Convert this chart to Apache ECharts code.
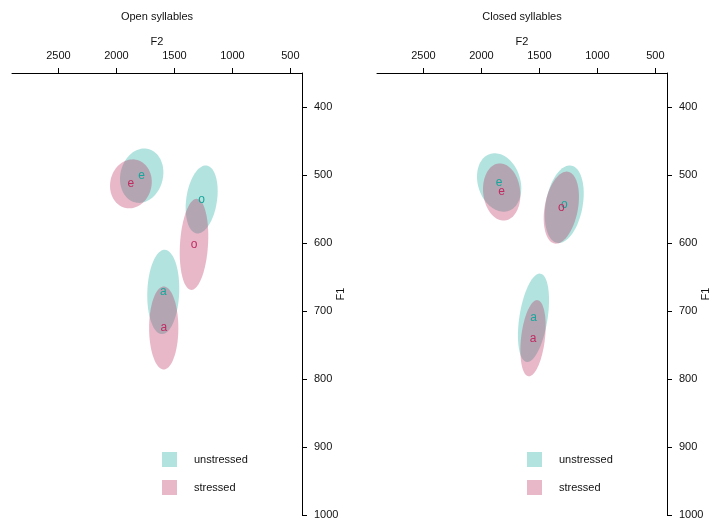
<!DOCTYPE html>
<html>
<head>
<meta charset="utf-8">
<script src="https://cdn.jsdelivr.net/npm/echarts@6/dist/echarts.min.js"></script>
<style>html,body{margin:0;padding:0;background:#fff;}#chart{width:715px;height:519px;}</style>
</head>
<body>
<div id="chart"></div>
<script>
// ---- data (Hz) ----
const vowels = ['a', 'e', 'o'];
const f2Ticks = [500, 1000, 1500, 2000, 2500];
const f1Ticks = [400, 500, 600, 700, 800, 900, 1000];
const panelTitles = ['Open syllables', 'Closed syllables'];
const groupNames = ['unstressed', 'stressed'];

// Open syllables: ellipse centre, half-extents (F2, F1) and correlation
const openUnstressedF2 = [1596, 1782, 1265];
const openUnstressedF1 = [672, 501, 536];
const openUnstressedRadF2 = [138, 187, 138];
const openUnstressedRadF1 = [62, 40, 50];
const openUnstressedCorr = [0.08, 0.12, 0.25];

const openStressedF2 = [1592, 1875, 1331];
const openStressedF1 = [725, 513, 602];
const openStressedRadF2 = [126, 180, 123];
const openStressedRadF1 = [61, 36, 67];
const openStressedCorr = [0.0, 0.08, 0.18];

// Closed syllables
const closedUnstressedF2 = [1551, 1847, 1286];
const closedUnstressedF1 = [710, 511, 543];
const closedUnstressedRadF2 = [134, 191, 168];
const closedUnstressedRadF1 = [65, 43, 57];
const closedUnstressedCorr = [0.4, -0.2, 0.28];

const closedStressedF2 = [1555, 1825, 1311];
const closedStressedF1 = [740, 525, 548];
const closedStressedRadF2 = [109, 161, 152];
const closedStressedRadF1 = [56, 42, 53];
const closedStressedCorr = [0.32, -0.1, 0.3];

// ---- styling ----
const fillColors = {unstressed: 'rgba(22,170,158,0.33)', stressed: 'rgba(185,40,88,0.33)'};
const textColors = {unstressed: '#17a69b', stressed: '#be2c62'};
const FONT = '"Liberation Sans", Arial, Helvetica, sans-serif';

function rows(f2, f1, r2, r1, c) {
  return vowels.map((v, i) => [f2[i], f1[i], r2[i], r1[i], c[i], i]);
}
const panels = [
  {unstressed: rows(openUnstressedF2, openUnstressedF1, openUnstressedRadF2, openUnstressedRadF1, openUnstressedCorr),
   stressed: rows(openStressedF2, openStressedF1, openStressedRadF2, openStressedRadF1, openStressedCorr)},
  {unstressed: rows(closedUnstressedF2, closedUnstressedF1, closedUnstressedRadF2, closedUnstressedRadF1, closedUnstressedCorr),
   stressed: rows(closedStressedF2, closedStressedF1, closedStressedRadF2, closedStressedRadF1, closedStressedCorr)}
];

function ellipseRender(params, api) {
  const cx = api.value(0), cy = api.value(1), rx = api.value(2), ry = api.value(3), r = api.value(4);
  const s = Math.sqrt(1 - r * r);
  const pts = [];
  const N = 90;
  for (let k = 0; k < N; k++) {
    const t = 2 * Math.PI * k / N;
    pts.push(api.coord([cx + rx * Math.cos(t), cy + ry * (r * Math.cos(t) + s * Math.sin(t))]));
  }
  return {type: 'polygon', shape: {points: pts}, style: {fill: api.visual('color')}};
}
function labelRender(name) {
  return function (params, api) {
    const p = api.coord([api.value(0), api.value(1)]);
    return {type: 'text', x: p[0], y: p[1],
      style: {text: vowels[api.value(5)], fill: textColors[name], font: '12px ' + FONT, align: 'center', verticalAlign: 'middle'}};
  };
}

const gridLeft = [12, 377];
const series = [];
[0, 1].forEach(pi => {
  groupNames.forEach(name => {
    series.push({type: 'custom', name: name, xAxisIndex: pi, yAxisIndex: pi,
      itemStyle: {color: fillColors[name]}, encode: {x: 0, y: 1},
      data: panels[pi][name], renderItem: ellipseRender, z: 2, silent: true});
  });
});
[0, 1].forEach(pi => {
  groupNames.forEach(name => {
    series.push({type: 'custom', name: name, xAxisIndex: pi, yAxisIndex: pi,
      itemStyle: {color: fillColors[name]}, encode: {x: 0, y: 1},
      data: panels[pi][name], renderItem: labelRender(name), z: 5, silent: true});
  });
});

const axisText = {color: '#111', fontSize: 11, fontFamily: FONT};
const plain = v => String(v);
const option = {
  animation: false,
  backgroundColor: '#fff',
  title: [0, 1].map(i => ({text: panelTitles[i], left: gridLeft[i] + 145, top: 11, textAlign: 'center', padding: 0,
    textStyle: {fontSize: 11, fontWeight: 'normal', color: '#111', fontFamily: FONT}})),
  grid: [0, 1].map(i => ({left: gridLeft[i], top: 73, width: 290, height: 442, containLabel: false, outerBoundsMode: 'none'})),
  xAxis: [0, 1].map(i => ({gridIndex: i, type: 'value', position: 'top', inverse: true, min: 400, max: 2900,
    name: 'F2', nameLocation: 'middle', nameGap: 26, nameMoveOverlap: false, nameTextStyle: axisText,
    splitLine: {show: false},
    axisLine: {onZero: false, lineStyle: {color: '#000', width: 1}},
    axisTick: {show: true, length: 5, customValues: f2Ticks, lineStyle: {color: '#000'}},
    axisLabel: Object.assign({customValues: f2Ticks, margin: 12, formatter: plain}, axisText)})),
  yAxis: [0, 1].map(i => ({gridIndex: i, type: 'value', position: 'right', inverse: true, min: 350, max: 1000,
    name: 'F1', nameLocation: 'middle', nameGap: 33, nameMoveOverlap: false, nameTextStyle: axisText,
    splitLine: {show: false},
    axisLine: {onZero: false, lineStyle: {color: '#000', width: 1}},
    axisTick: {show: true, length: 5, customValues: f1Ticks, lineStyle: {color: '#000'}},
    axisLabel: Object.assign({customValues: f1Ticks, margin: 12, formatter: plain}, axisText)})),
  legend: [0, 1].map(i => ({left: gridLeft[i] + 150, top: 452, padding: 0, orient: 'vertical', icon: 'rect',
    itemWidth: 15, itemHeight: 15, itemGap: 13, data: groupNames, selectedMode: false,
    textStyle: {fontSize: 11, color: '#111', fontFamily: FONT, padding: [0, 0, 0, 12]}})),
  series: series
};
const chart = echarts.init(document.getElementById('chart'), null, {renderer: 'canvas'});
chart.setOption(option);
</script>
</body>
</html>
